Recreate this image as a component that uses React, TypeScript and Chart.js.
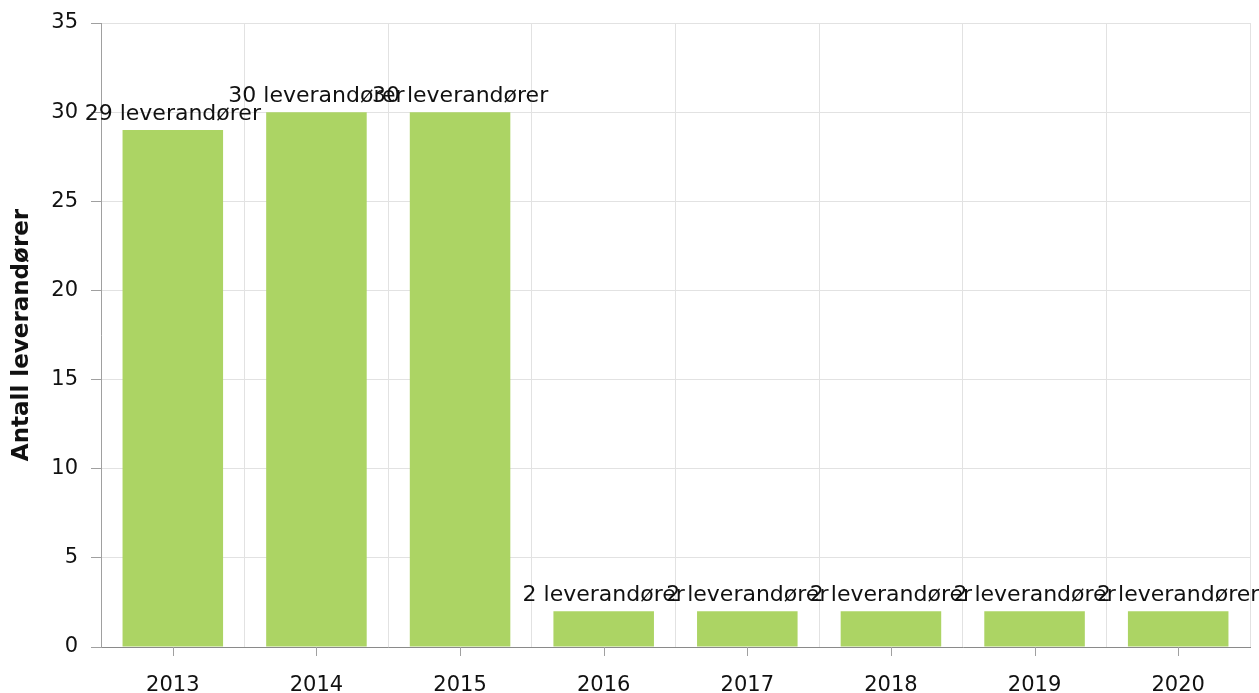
import React, { useEffect, useRef } from "react";
import { Chart, registerables } from "chart.js";

Chart.register(...registerables);

const categories = ["2013", "2014", "2015", "2016", "2017", "2018", "2019", "2020"];
const supplierCounts = [29, 30, 30, 2, 2, 2, 2, 2];
const unitLabel = "leverandører";
const yAxisTitle = "Antall leverandører";

const FONT = "'DejaVu Sans', Verdana, sans-serif";

const barLabelPlugin = {
  id: "barLabels",
  afterDatasetsDraw(chart: any) {
    const ctx = chart.ctx;
    const meta = chart.getDatasetMeta(0);
    ctx.save();
    ctx.font = `22px ${FONT}`;
    ctx.fillStyle = "#111";
    ctx.textAlign = "center";
    ctx.textBaseline = "alphabetic";
    meta.data.forEach((el: any, i: number) => {
      const v = chart.data.datasets[0].data[i];
      ctx.fillText(`${v} ${unitLabel}`, el.x, el.y - 10);
    });
    ctx.restore();
  },
};

const centerTickPlugin = {
  id: "centerTicks",
  afterDraw(chart: any) {
    const ctx = chart.ctx;
    const xs = chart.scales.x;
    const bottom = chart.chartArea.bottom;
    ctx.save();
    ctx.strokeStyle = "#a0a0a0";
    ctx.lineWidth = 1;
    categories.forEach((_, i) => {
      const x = Math.round(xs.getPixelForValue(i)) + 0.5;
      ctx.beginPath();
      ctx.moveTo(x, bottom);
      ctx.lineTo(x, bottom + 9);
      ctx.stroke();
    });
    ctx.restore();
  },
};

export default function App() {
  const ref = useRef<HTMLCanvasElement | null>(null);

  useEffect(() => {
    if (!ref.current) return;
    const chart = new Chart(ref.current, {
      type: "bar",
      data: {
        labels: categories,
        datasets: [
          {
            data: supplierCounts,
            backgroundColor: "#acd464",
            borderWidth: 0,
            barPercentage: 0.7,
            categoryPercentage: 1,
          },
        ],
      },
      options: {
        animation: false,
        responsive: false,
        devicePixelRatio: 1,
        layout: { padding: { top: 23, right: 9, left: 0, bottom: 0 } },
        plugins: {
          legend: { display: false },
          tooltip: { enabled: false },
        },
        scales: {
          x: {
            grid: {
              color: "#e2e2e2",
              offset: true,
              drawTicks: false,
            },
            border: { color: "#8a8a8a", width: 1 },
            ticks: {
              color: "#111",
              font: { family: FONT, size: 21 },
              padding: 26,
            },
            afterFit(scale: any) {
              scale.height = 46;
            },
          },
          y: {
            min: 0,
            max: 35,
            ticks: {
              stepSize: 5,
              color: "#111",
              font: { family: FONT, size: 21 },
              padding: 13,
            },
            grid: {
              color: "#e2e2e2",
              tickColor: "#a0a0a0",
              tickLength: 10,
            },
            border: { color: "#a0a0a0", width: 1 },
            title: {
              display: true,
              text: yAxisTitle,
              color: "#111",
              font: { family: FONT, size: 23, weight: "bold" },
              padding: { top: 8, bottom: 4 },
            },
            afterFit(scale: any) {
              scale.width = 101;
              scale.paddingTop = 0;
              scale.paddingBottom = 0;
            },
          },
        },
      },
      plugins: [barLabelPlugin, centerTickPlugin],
    });
    return () => chart.destroy();
  }, []);

  return (
    <div style={{ position: "absolute", left: 0, top: 0, width: 1259, height: 693, background: "#fff" }}>
      <canvas ref={ref} width={1259} height={693} style={{ display: "block" }} />
    </div>
  );
}
